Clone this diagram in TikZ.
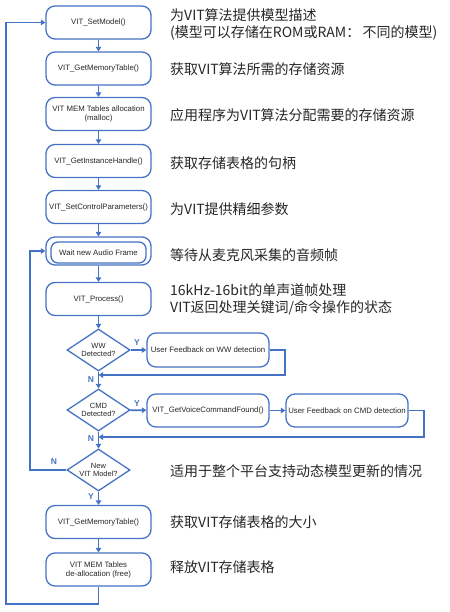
\documentclass[tikz,border=0pt]{standalone}
\usepackage{fontspec}
\setmainfont{Liberation Sans}
\newfontfamily\cjk{Noto Sans CJK SC}
\usetikzlibrary{shapes.geometric,arrows.meta}
\definecolor{vblue}{HTML}{4472C4}
\begin{document}
\begin{tikzpicture}[x=1pt,y=-1pt,
 box/.style={draw=vblue, line width=1.3pt, rounded corners=9pt, minimum width=105pt, minimum height=33pt, align=center, font=\fontsize{7.8}{9}\selectfont, text=black!85, inner sep=1pt},
 sbox/.style={box, minimum width=122pt, minimum height=34pt},
 dia/.style={draw=vblue, line width=1.3pt, diamond, minimum width=63pt, minimum height=42pt, inner sep=0pt, aspect=1.5, align=center, font=\fontsize{7.5}{8.8}\selectfont, text=black!85},
 conn/.style={draw=vblue, line width=1.8pt, -{Triangle[length=4.5pt,width=5.5pt]}},
 lab/.style={text=vblue, font=\bfseries\fontsize{8.5}{9}\selectfont, inner sep=0pt},
 note/.style={anchor=west, font=\cjk\fontsize{14}{16}\selectfont, text=black!85, inner sep=0pt}]
\useasboundingbox (0,0) rectangle (449,612);

% main column
\node[box] (b1) at (98.5,22.5) {VIT\_SetModel()};
\node[box] (b2) at (98.5,68.5) {VIT\_GetMemoryTable()};
\node[box] (b3) at (98.5,114) {VIT MEM Tables allocation\\(malloc)};
\node[box] (b4) at (98.5,161) {VIT\_GetInstanceHandle()};
\node[box] (b5) at (98.5,207) {VIT\_SetControlParameters()};
\node[box, minimum height=28pt] (b6) at (98.5,251) {};
\node[box, minimum width=95pt, minimum height=21pt, rounded corners=7pt] (b6i) at (98.5,252.5) {Wait new Audio Frame};
\node[box] (b7) at (98.5,299) {VIT\_Process()};
\node[dia] (d1) at (98.5,350) {WW\\Detected?};
\node[dia] (d2) at (98.5,410) {CMD\\Detected?};
\node[dia] (d3) at (98.5,470) {New\\VIT Model?};
\node[box] (b8) at (98.5,522) {VIT\_GetMemoryTable()};
\node[box] (b9) at (98.5,569.5) {VIT MEM Tables\\de-allocation (free)};

% side boxes
\node[sbox] (f1) at (208,350) {User Feedback on WW detection};
\node[sbox, minimum height=33pt] (f2) at (208,410.5) {VIT\_GetVoiceCommandFound()};
\node[sbox, minimum height=33pt] (f3) at (347,410.5) {User Feedback on CMD detection};

% connectors
\draw[conn] (b1) -- (b2);
\draw[conn] (b2) -- (b3);
\draw[conn] (b3) -- (b4);
\draw[conn] (b4) -- (b5);
\draw[conn] (b5) -- (b6);
\draw[conn] (b6) -- (b7);
\draw[conn] (b7) -- (d1);
\draw[conn] (d1) -- (d2);
\draw[conn] (d2) -- (d3);
\draw[conn] (d3) -- (b8);
\draw[conn] (b8) -- (b9);
\draw[conn] (d1) -- (f1);
\draw[conn] (d2) -- (f2);
\draw[conn] (f2) -- (f3);

\coordinate (r1) at (285,375);
\coordinate (m1) at (98.5,375);
\draw[conn] (f1.east) -| (r1) -- (m1);
\coordinate (r2) at (424,437);
\coordinate (m2) at (98.5,437);
\draw[conn] (f3.east) -| (r2) -- (m2);
\coordinate (l3) at (30,470);
\draw[conn] (d3.west) -- (l3) |- (b6.west);
\coordinate (lb) at (98.5,604);
\coordinate (lo) at (6,604);
\draw[conn] (b9.south) -- (lb) -- (lo) |- (b1.west);

% labels
\node[lab] (y1) at (137,343) {Y};
\node[lab] (y2) at (137,404) {Y};
\node[lab] (y3) at (91,497) {Y};
\node[lab] (n1) at (91,380) {N};
\node[lab] (n2) at (91,439) {N};
\node[lab] (n3) at (54,462) {N};

% notes
\node[note] (t1a) at (170,15) {为VIT算法提供模型描述};
\node[note] (t1b) at (170,33) {(模型可以存储在ROM或RAM：\,不同的模型)};
\node[note] (t2) at (170,69) {获取VIT算法所需的存储资源};
\node[note] (t3) at (170,115) {应用程序为VIT算法分配需要的存储资源};
\node[note] (t4) at (170,163) {获取存储表格的句柄};
\node[note] (t5) at (170,209) {为VIT提供精细参数};
\node[note] (t6) at (170,255) {等待从麦克风采集的音频帧};
\node[note] (t7a) at (170,290) {16kHz-16bit的单声道帧处理};
\node[note] (t7b) at (170,308) {VIT返回处理关键词/命令操作的状态};
\node[note] (t8) at (170,471) {适用于整个平台支持动态模型更新的情况};
\node[note] (t9) at (170,522) {获取VIT存储表格的大小};
\node[note] (t10) at (170,567) {释放VIT存储表格};
\end{tikzpicture}
\end{document}
